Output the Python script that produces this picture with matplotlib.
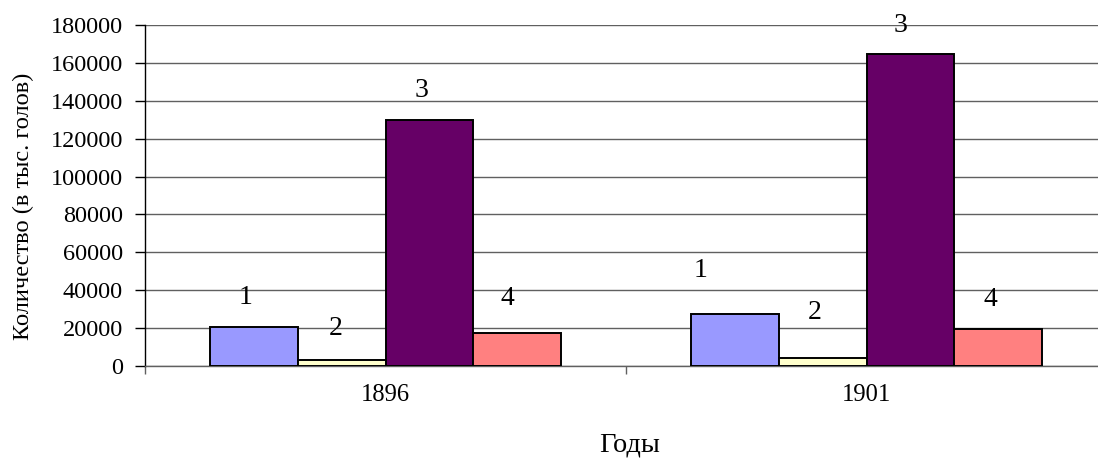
import matplotlib
matplotlib.use("Agg")
import matplotlib.pyplot as plt
import numpy as np

years = ["1896", "1901"]
series_names = ["1", "2", "3", "4"]
values = {
    "1": [20800, 27400],
    "2": [3000, 4000],
    "3": [129800, 164500],
    "4": [17600, 19500],
}
colors = ["#9999FF", "#FFFFCC", "#660066", "#FF8080"]
# label offsets in pixels (dx, dy from bar top-center)
label_dx = {"1": [-9, -35], "2": [-6, -8], "3": [-8, -10], "4": [-9, -7]}
label_dy = {"1": [29, 44], "2": [32, 46], "3": [30, 29], "4": [34, 30]}

plt.rcParams["font.family"] = ["Liberation Serif", "DejaVu Serif"]

W, H = 1098, 461
fig = plt.figure(figsize=(W / 100, H / 100), dpi=100)
ax = fig.add_axes([145 / W, 1 - 366 / H, 962 / W, 341 / H])

x = np.arange(len(years))
bw = 0.182
n = len(series_names)
for i, s in enumerate(series_names):
    pos = x + (i - (n - 1) / 2) * bw
    ax.bar(pos, values[s], width=bw, color=colors[i], edgecolor="black",
           linewidth=1.4, zorder=3)
    for j, (px, v) in enumerate(zip(pos, values[s])):
        ax.annotate(s, (px, v), xytext=(label_dx[s][j] * 0.72, label_dy[s][j] * 0.72),
                    textcoords="offset points", ha="center", va="center",
                    fontsize=20, zorder=4)

ax.set_xlim(-0.5, 1.5)
ax.set_ylim(0, 180000)
ax.set_yticks(np.arange(0, 180001, 20000))
ax.yaxis.grid(True, color="#606060", linewidth=1.0, zorder=0)
ax.set_axisbelow(True)
ax.set_xticks(x)
ax.set_xticklabels(years, fontsize=17.7)
ax.set_xticks([-0.5, 0.5, 1.5], minor=True)
ax.tick_params(axis="x", which="major", length=0, pad=13)
ax.tick_params(axis="x", which="minor", length=6, color="#606060", width=1)
ax.tick_params(axis="y", length=7, width=1, labelsize=17.5, pad=9)

for sp in ["top", "right"]:
    ax.spines[sp].set_visible(False)
ax.spines["left"].set_color("black")
ax.spines["left"].set_linewidth(1.0)
ax.spines["bottom"].set_color("#606060")
ax.spines["bottom"].set_linewidth(1.0)

fig.text(630 / W, 1 - 445 / H, "Годы", ha="center", va="center", fontsize=20.4)
fig.text(23 / W, 1 - 206 / H, "Количество (в тыс. голов)", ha="center",
         va="center", rotation=90, fontsize=17.6)

fig.savefig("out.png", dpi=100)
